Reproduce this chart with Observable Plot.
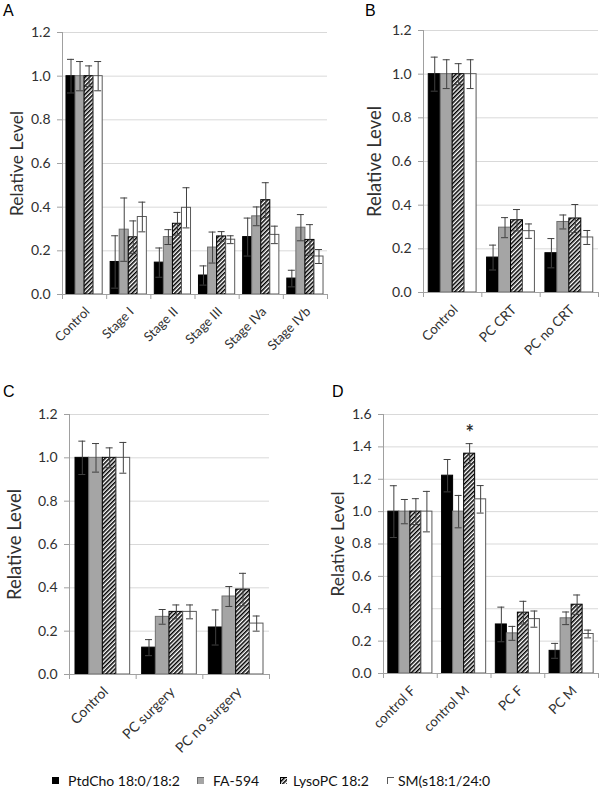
<!DOCTYPE html>
<html>
<head>
<meta charset="utf-8">
<script src="https://cdn.jsdelivr.net/npm/d3@7"></script>
<script src="https://cdn.jsdelivr.net/npm/@observablehq/plot@0.6"></script>
<style>
  html, body { margin: 0; padding: 0; background: #fff; }
  #root { position: relative; width: 600px; height: 799px; overflow: hidden; font-family: Lato, sans-serif; }
  .panel { position: absolute; }
  .panel svg text { fill: #303030; }
  .letter { position: absolute; font-family: "Liberation Sans", Arial, sans-serif; font-size: 16px; line-height: 1; color: #000; }
  .leg { position: absolute; top: 772px; font-family: Lato, sans-serif; font-size: 14px; line-height: 18px; color: #111; white-space: nowrap; }
  .sw { position: absolute; top: 777px; width: 7px; height: 7px; }
</style>
</head>
<body>
<svg width="0" height="0" style="position:absolute">
  <defs>
    <pattern id="hatch" patternUnits="userSpaceOnUse" width="3" height="3" patternTransform="rotate(45)">
      <rect width="3" height="3" fill="#fff"></rect>
      <line x1="0.75" y1="0" x2="0.75" y2="3" stroke="#000" stroke-width="1.6"></line>
    </pattern>
  </defs>
</svg>
<div id="root"></div>
<script>
// ---------- data ----------
const series = ["PtdCho 18:0/18:2", "FA-594", "LysoPC 18:2", "SM(s18:1/24:0"];

// Panel A
const catsA = ["Control", "Stage I", "Stage II", "Stage III", "Stage IVa", "Stage IVb"];
const meanA = [
  [1.0, 0.149, 0.146, 0.087, 0.263, 0.073],
  [1.0, 0.297, 0.263, 0.215, 0.358, 0.306],
  [1.0, 0.262, 0.324, 0.266, 0.432, 0.250],
  [1.0, 0.355, 0.397, 0.251, 0.273, 0.174]
];
const errA = [
  [0.077, 0.120, 0.067, 0.044, 0.087, 0.038],
  [0.067, 0.145, 0.034, 0.071, 0.043, 0.060],
  [0.047, 0.075, 0.052, 0.022, 0.080, 0.070],
  [0.067, 0.068, 0.092, 0.018, 0.040, 0.032]
];

// Panel B
const catsB = ["Control", "PC CRT", "PC no CRT"];
const meanB = [
  [1.0, 0.160, 0.180],
  [1.0, 0.297, 0.323],
  [1.0, 0.331, 0.339],
  [1.0, 0.281, 0.252]
];
const errB = [
  [0.078, 0.057, 0.067],
  [0.066, 0.046, 0.032],
  [0.048, 0.049, 0.064],
  [0.066, 0.033, 0.032]
];

// Panel C
const catsC = ["Control", "PC surgery", "PC no surgery"];
const meanC = [
  [1.0, 0.124, 0.217],
  [1.0, 0.266, 0.360],
  [1.0, 0.289, 0.392],
  [1.0, 0.289, 0.235]
];
const errC = [
  [0.077, 0.037, 0.081],
  [0.066, 0.034, 0.046],
  [0.046, 0.032, 0.075],
  [0.071, 0.032, 0.035]
];

// Panel D
const catsD = ["control F", "control M", "PC F", "PC M"];
const meanD = [
  [1.0, 1.222, 0.303, 0.140],
  [1.0, 1.000, 0.248, 0.341],
  [1.0, 1.358, 0.376, 0.425],
  [1.0, 1.076, 0.336, 0.244]
];
const errD = [
  [0.160, 0.100, 0.107, 0.046],
  [0.075, 0.100, 0.043, 0.039],
  [0.080, 0.062, 0.070, 0.060],
  [0.125, 0.085, 0.050, 0.024]
];
const starD = [{cat: 1, series: 2, text: "*"}];

const ticks12 = [0, 0.2, 0.4, 0.6, 0.8, 1.0, 1.2];
const ticks16 = [0, 0.2, 0.4, 0.6, 0.8, 1.0, 1.2, 1.4, 1.6];

// ---------- styles ----------
const fills = ["#000000", "#a5a5a5", "url(#hatch)", "#ffffff"];
const strokes = ["#000000", "#6f6f6f", "#000000", "#5a5a5a"];
const PAD = 0.09;
const BW = (1 - 2 * PAD) / 4;

const panels = [
  {letter: "A", cats: catsA, mean: meanA, err: errA, yMax: 1.2, yTicks: ticks12,
   left: 0, top: 0, width: 330, height: 370, ml: 62, mr: 3, mt: 32, mb: 76,
   labelDx: -45, labelSize: 17.5, catSize: 13, tickSize: 14, lx: 3, ly: 3, stars: []},
  {letter: "B", cats: catsB, mean: meanB, err: errB, yMax: 1.2, yTicks: ticks12,
   left: 300, top: 0, width: 300, height: 370, ml: 123, mr: 2, mt: 30, mb: 78,
   labelDx: -48, labelSize: 18.5, catSize: 13.5, tickSize: 14, lx: 365, ly: 3, stars: []},
  {letter: "C", cats: catsC, mean: meanC, err: errC, yMax: 1.2, yTicks: ticks12,
   left: 0, top: 380, width: 300, height: 390, ml: 69, mr: 31, mt: 34, mb: 96,
   labelDx: -54, labelSize: 18.5, catSize: 14, tickSize: 14, lx: 3, ly: 384, stars: []},
  {letter: "D", cats: catsD, mean: meanD, err: errD, yMax: 1.6, yTicks: ticks16,
   left: 300, top: 380, width: 300, height: 390, ml: 83, mr: 2, mt: 34, mb: 97,
   labelDx: -45, labelSize: 17.5, catSize: 13.5, tickSize: 14, lx: 332, ly: 384, stars: starD}
];

function flatten(p) {
  const out = [];
  p.mean.forEach((row, k) => row.forEach((v, i) => out.push({i, k, v, e: p.err[k][i]})));
  return out;
}

const root = document.getElementById("root");

for (const p of panels) {
  const n = p.cats.length;
  const data = flatten(p);
  const pxPerCat = (p.width - p.ml - p.mr) / n;
  const cap = 3.5 / pxPerCat;
  const cx = d => d.i + PAD + (d.k + 0.5) * BW;

  const marks = [
    Plot.ruleY(p.yTicks.filter(t => t > 0), {stroke: "#d9d9d9", strokeWidth: 1}),
    ...series.map((s, k) => Plot.rect(data.filter(d => d.k === k), {
      x1: d => d.i + PAD + d.k * BW,
      x2: d => d.i + PAD + (d.k + 1) * BW,
      y1: () => 0,
      y2: "v",
      fill: fills[k],
      stroke: strokes[k],
      strokeWidth: 1
    })),
    Plot.ruleY([0], {stroke: "#a0a0a0"}),
    Plot.ruleX([0], {stroke: "#a0a0a0"}),
    Plot.ruleX(data, {x: cx, y1: d => d.v - d.e, y2: d => d.v + d.e, stroke: "#404040", strokeWidth: 1}),
    Plot.ruleY(data, {x1: d => cx(d) - cap, x2: d => cx(d) + cap, y: d => d.v + d.e, stroke: "#404040", strokeWidth: 1}),
    Plot.ruleY(data, {x1: d => cx(d) - cap, x2: d => cx(d) + cap, y: d => d.v - d.e, stroke: "#404040", strokeWidth: 1}),
    Plot.text(p.cats, {x: (d, i) => i + 0.5, y: () => 0, text: d => d, rotate: -45, textAnchor: "end",
      dx: 3, dy: 15, fontSize: p.catSize}),
    Plot.text(["Relative Level"], {frameAnchor: "left", dx: p.labelDx, rotate: -90, text: d => d,
      fontSize: p.labelSize, textAnchor: "middle"}),
    Plot.text(p.stars, {
      x: d => d.cat + PAD + (d.series + 0.5) * BW,
      y: d => p.mean[d.series][d.cat] + p.err[d.series][d.cat],
      text: d => d.text, dy: -10, fontSize: 20, fontWeight: "bold"
    })
  ];

  const chart = Plot.plot({
    width: p.width,
    height: p.height,
    marginLeft: p.ml,
    marginRight: p.mr,
    marginTop: p.mt,
    marginBottom: p.mb,
    style: {background: "transparent", fontFamily: "Lato, sans-serif", fontSize: p.tickSize + "px", color: "#a0a0a0", overflow: "visible"},
    x: {domain: [0, n], ticks: d3.range(n + 1), tickFormat: () => "", tickSize: 5, label: null},
    y: {domain: [0, p.yMax], ticks: p.yTicks, tickFormat: d3.format(".1f"), tickSize: 5, tickPadding: 7, label: null},
    marks
  });
  const wrap = document.createElement("div");
  wrap.className = "panel";
  wrap.style.left = p.left + "px";
  wrap.style.top = p.top + "px";
  wrap.appendChild(chart);
  root.appendChild(wrap);

  const L = document.createElement("div");
  L.className = "letter";
  L.textContent = p.letter;
  L.style.left = p.lx + "px";
  L.style.top = p.ly + "px";
  root.appendChild(L);
}

// ---------- legend ----------
const legSwatchX = [52, 197, 280, 387];
const legTextX = [68, 213, 293, 398];
series.forEach((s, k) => {
  const sw = document.createElementNS("http://www.w3.org/2000/svg", "svg");
  sw.setAttribute("width", 9);
  sw.setAttribute("height", 9);
  sw.setAttribute("class", "sw");
  sw.style.left = legSwatchX[k] + "px";
  const r = document.createElementNS("http://www.w3.org/2000/svg", "rect");
  r.setAttribute("x", 0.5); r.setAttribute("y", 0.5);
  r.setAttribute("width", 7); r.setAttribute("height", 7);
  r.setAttribute("fill", fills[k]);
  r.setAttribute("stroke", strokes[k]);
  sw.appendChild(r);
  root.appendChild(sw);
  const t = document.createElement("div");
  t.className = "leg";
  t.style.left = legTextX[k] + "px";
  t.textContent = s;
  root.appendChild(t);
});
</script>
</body>
</html>
